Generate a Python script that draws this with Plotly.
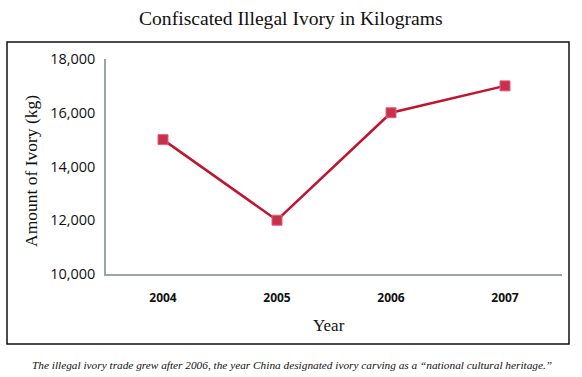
import plotly.graph_objects as go

years = [2004, 2005, 2006, 2007]
ivory_kg = [15000, 12000, 16000, 17000]
y_ticks = [10000, 12000, 14000, 16000, 18000]
y_tick_labels = ["10,000", "12,000", "14,000", "16,000", "18,000"]

W, H = 582, 377
L, R, T, B = 106, 20, 59, 103
pw, ph = W - L - R, H - T - B

def px(x):
    return (x - L) / pw

def py(y):
    return (H - B - y) / ph

fig = go.Figure()
fig.add_trace(go.Scatter(
    x=years, y=ivory_kg, mode="lines+markers",
    line=dict(color="#c0142f", width=2.5),
    marker=dict(symbol="square", size=10, color="#c8304c",
                line=dict(color="#e0607a", width=1)),
    showlegend=False, hoverinfo="skip",
))

ann = dict(xref="paper", yref="paper", showarrow=False,
           xanchor="center", yanchor="middle")

fig.update_layout(
    width=W, height=H,
    margin=dict(l=L, r=R, t=T, b=B),
    paper_bgcolor="white", plot_bgcolor="white",
    xaxis=dict(range=[2003.5, 2007.5], tickvals=years,
               ticktext=["<b>%d</b>" % y for y in years],
               showgrid=False, zeroline=False, showline=True,
               linecolor="#9aa7a8", linewidth=1.5, ticks="",
               tickfont=dict(family="Open Sans", size=12, color="#111"),
               ticklabelstandoff=12),
    yaxis=dict(range=[10000, 18000], tickvals=y_ticks, ticktext=y_tick_labels,
               showgrid=False, zeroline=False, showline=True,
               linecolor="#9aa7a8", linewidth=1.5, ticks="",
               tickfont=dict(family="Open Sans", size=14.5, color="#111"),
               ticklabelstandoff=6),
    shapes=[dict(type="rect", xref="paper", yref="paper",
                 x0=px(7), x1=px(569), y0=py(344), y1=py(42),
                 line=dict(color="#111", width=1.5), layer="below")],
    annotations=[
        dict(ann, text="Confiscated Illegal Ivory in Kilograms",
             x=px(291), y=py(18),
             font=dict(family="Liberation Serif", size=19.6, color="#111")),
        dict(ann, text="Amount of Ivory (kg)",
             x=px(31), y=py(171), textangle=-90,
             font=dict(family="Liberation Serif", size=17.5, color="#111")),
        dict(ann, text="Year",
             x=px(329), y=py(325),
             font=dict(family="Liberation Serif", size=17, color="#111")),
        dict(ann, text="<i>The illegal ivory trade grew after 2006, the year China designated ivory carving as a \u201cnational cultural heritage.\u201d</i>",
             x=px(292), y=py(365),
             font=dict(family="Liberation Serif", size=11.3, color="#111")),
    ],
)

fig.write_html("out.html", config={"displayModeBar": False},
               post_script="document.body.style.margin='0';")
